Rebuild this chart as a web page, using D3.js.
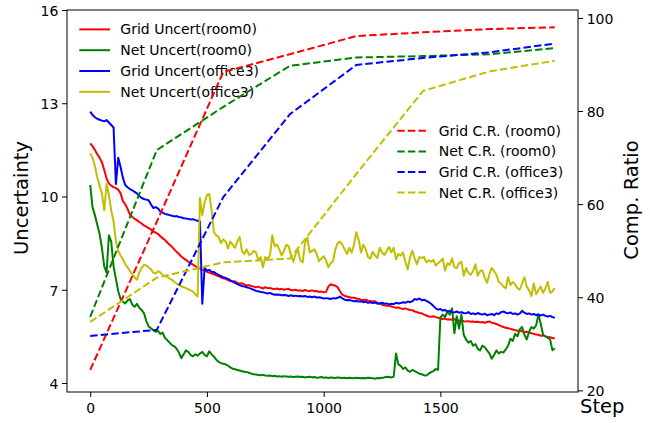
<!DOCTYPE html>
<html>
<head>
<meta charset="utf-8">
<script src="https://cdn.jsdelivr.net/npm/d3@7"></script>
<style>
body { margin: 0; background: #fff; }
svg { display: block; font-family: "DejaVu Sans", sans-serif; }
</style>
</head>
<body>
<script>

// uncertainty curves, one reading every 10 steps (0 .. 1990)
let steps = d3.range(0, 2000, 10)

let gridUncertRoom0 = [
    11.71, 11.62, 11.50, 11.36, 11.25, 11.10, 10.85, 10.58, 10.42, 10.35,
    10.30, 10.27, 10.22, 10.10, 9.85, 9.75, 9.60, 9.42, 9.35, 9.28,
    9.24, 9.18, 9.13, 9.07, 9.03, 8.98, 8.94, 8.88, 8.84, 8.80,
    8.72, 8.66, 8.60, 8.52, 8.45, 8.38, 8.30, 8.22, 8.15, 8.07,
    8.01, 7.96, 7.90, 7.85, 7.81, 7.76, 7.72, 7.68, 7.64, 7.62,
    7.58, 7.55, 7.52, 7.50, 7.46, 7.44, 7.40, 7.37, 7.35, 7.31,
    7.28, 7.26, 7.27, 7.22, 7.20, 7.21, 7.17, 7.14, 7.15, 7.12,
    7.10, 7.08, 7.10, 7.07, 7.04, 7.08, 7.05, 7.06, 7.03, 7.02,
    7.04, 7.01, 7.03, 7.00, 7.02, 7.03, 6.99, 6.98, 7.00, 6.97,
    6.98, 6.96, 6.99, 6.97, 6.96, 6.98, 6.95, 6.96, 6.93, 6.94,
    6.92, 6.93, 7.10, 7.18, 7.15, 7.13, 7.08, 6.95, 6.84, 6.80,
    6.78, 6.76, 6.74, 6.74, 6.72, 6.70, 6.68, 6.67, 6.68, 6.65,
    6.64, 6.62, 6.63, 6.58, 6.56, 6.52, 6.50, 6.48, 6.49, 6.46,
    6.44, 6.42, 6.43, 6.40, 6.38, 6.40, 6.37, 6.35, 6.34, 6.30,
    6.28, 6.25, 6.24, 6.20, 6.17, 6.14, 6.13, 6.15, 6.12, 6.10,
    6.08, 6.06, 6.07, 6.04, 6.05, 6.03, 6.05, 6.02, 6.00, 6.01,
    5.99, 5.98, 5.99, 5.97, 5.98, 5.96, 5.97, 5.95, 5.96, 5.94,
    5.96, 5.98, 5.94, 5.92, 5.90, 5.86, 5.83, 5.80, 5.78, 5.76,
    5.74, 5.72, 5.70, 5.68, 5.69, 5.66, 5.64, 5.65, 5.62, 5.60,
    5.58, 5.56, 5.55, 5.52, 5.53, 5.50, 5.48, 5.47, 5.45, 5.43
]

let netUncertRoom0 = [
    10.37, 9.65, 9.40, 9.10, 8.80, 8.35, 7.75, 7.55, 8.75, 8.55,
    7.75, 7.35, 6.95, 6.70, 6.62, 6.56, 6.66, 6.70, 6.52, 6.45,
    6.55, 6.42, 6.35, 6.25, 6.00, 5.82, 5.76, 5.70, 5.65, 5.68,
    5.58, 5.62, 5.45, 5.38, 5.30, 5.22, 5.18, 5.10, 4.98, 4.80,
    4.92, 5.05, 5.00, 4.90, 4.86, 4.92, 4.88, 4.95, 5.00, 4.90,
    4.86, 5.02, 4.92, 4.85, 4.75, 4.68, 4.64, 4.62, 4.60, 4.56,
    4.50, 4.46, 4.44, 4.42, 4.40, 4.38, 4.36, 4.35, 4.33, 4.30,
    4.28, 4.27, 4.26, 4.25, 4.26, 4.24, 4.23, 4.24, 4.22, 4.23,
    4.21, 4.22, 4.20, 4.22, 4.21, 4.20, 4.21, 4.19, 4.20, 4.21,
    4.19, 4.20, 4.18, 4.19, 4.20, 4.18, 4.19, 4.17, 4.18, 4.19,
    4.17, 4.18, 4.16, 4.18, 4.17, 4.16, 4.18, 4.17, 4.16, 4.17,
    4.15, 4.17, 4.16, 4.15, 4.17, 4.16, 4.15, 4.16, 4.15, 4.17,
    4.16, 4.15, 4.14, 4.16, 4.15, 4.17, 4.18, 4.20, 4.19, 4.18,
    4.20, 4.95, 4.60, 4.55, 4.45, 4.50, 4.40, 4.36, 4.42, 4.38,
    4.34, 4.30, 4.28, 4.25, 4.24, 4.30, 4.35, 4.38, 4.45, 4.42,
    6.10, 6.20, 6.12, 6.30, 6.20, 6.40, 5.60, 6.15, 5.75, 6.20,
    5.55, 5.40, 5.30, 5.35, 5.20, 5.25, 5.10, 5.05, 5.20, 5.15,
    5.05, 4.95, 4.78, 4.90, 5.05, 4.95, 5.00, 4.98, 5.08, 5.20,
    5.42, 5.35, 5.58, 5.50, 5.72, 5.80, 5.55, 5.40, 5.65, 5.80,
    5.75, 5.85, 6.20, 5.90, 5.55, 5.50, 5.45, 5.40, 5.05, 5.12
]

let gridUncertOffice3 = [
    12.73, 12.62, 12.55, 12.50, 12.47, 12.44, 12.42, 12.46, 12.38, 12.30,
    12.22, 10.40, 11.25, 10.95, 10.60, 10.37, 10.30, 10.24, 10.20, 10.15,
    10.10, 10.02, 9.95, 9.92, 9.90, 9.88, 9.75, 9.63, 9.66, 9.62,
    9.52, 9.48, 9.44, 9.42, 9.40, 9.38, 9.36, 9.37, 9.34, 9.33,
    9.30, 9.29, 9.28, 9.26, 9.27, 9.24, 9.22, 9.20, 6.55, 7.70,
    7.62, 7.64, 7.58, 7.57, 7.52, 7.48, 7.44, 7.40, 7.38, 7.35,
    7.30, 7.27, 7.22, 7.18, 7.15, 7.12, 7.10, 7.08, 7.06, 7.03,
    7.00, 6.96, 6.95, 6.93, 6.92, 6.90, 6.88, 6.90, 6.86, 6.84,
    6.85, 6.84, 6.82, 6.83, 6.82, 6.80, 6.82, 6.80, 6.81, 6.79,
    6.80, 6.78, 6.80, 6.77, 6.78, 6.76, 6.78, 6.75, 6.76, 6.74,
    6.72, 6.73, 6.72, 6.70, 6.73, 6.72, 6.74, 6.78, 6.72, 6.68,
    6.66, 6.67, 6.65, 6.63, 6.64, 6.62, 6.63, 6.60, 6.62, 6.58,
    6.60, 6.57, 6.59, 6.55, 6.56, 6.58, 6.55, 6.56, 6.53, 6.55,
    6.54, 6.58, 6.56, 6.57, 6.60, 6.58, 6.62, 6.60, 6.63, 6.70,
    6.68, 6.72, 6.66, 6.68, 6.64, 6.60, 6.55, 6.48, 6.40, 6.36,
    6.38, 6.33, 6.35, 6.30, 6.32, 6.28, 6.27, 6.30, 6.26, 6.28,
    6.25, 6.24, 6.28, 6.22, 6.24, 6.21, 6.25, 6.22, 6.20, 6.23,
    6.18, 6.20, 6.22, 6.18, 6.24, 6.22, 6.28, 6.30, 6.26, 6.24,
    6.27, 6.22, 6.24, 6.20, 6.23, 6.32, 6.26, 6.22, 6.24, 6.20,
    6.22, 6.18, 6.21, 6.17, 6.20, 6.16, 6.14, 6.16, 6.12, 6.10
]

let netUncertOffice3 = [
    11.39, 11.25, 10.98, 10.62, 10.35, 10.10, 9.55, 10.40, 10.05, 9.55,
    9.20, 8.55, 8.25, 8.10, 7.98, 7.82, 7.72, 7.60, 7.50, 7.40,
    7.32, 7.55, 7.70, 7.80, 7.78, 7.72, 7.66, 7.55, 7.52, 7.60,
    7.56, 7.48, 7.44, 7.42, 7.36, 7.32, 7.25, 7.20, 7.16, 7.12,
    7.08, 7.05, 7.02, 6.98, 6.94, 6.85, 6.78, 9.95, 9.40, 9.80,
    10.05, 10.08, 9.55, 8.85, 8.75, 8.70, 8.50, 8.62, 8.55, 8.33,
    8.55, 8.45, 8.35, 8.55, 8.70, 8.25, 8.15, 8.30, 8.12, 8.15,
    8.25, 8.20, 7.95, 8.05, 7.72, 8.05, 8.00, 8.10, 8.75, 8.40,
    8.45, 8.30, 8.10, 8.25, 8.45, 8.40, 8.10, 7.90, 8.15, 8.28,
    7.95, 7.88, 8.50, 8.68, 8.20, 8.25, 8.30, 8.15, 7.92, 8.00,
    8.08, 7.95, 7.72, 7.85, 7.92, 8.30, 8.50, 8.55, 8.45, 8.30,
    8.15, 8.35, 8.20, 8.45, 8.85, 8.60, 8.20, 8.45, 8.30, 8.05,
    8.00, 8.22, 8.10, 8.02, 8.35, 8.20, 8.12, 8.25, 8.38, 8.20,
    8.35, 7.98, 8.15, 8.10, 8.20, 7.90, 7.65, 8.05, 8.25, 8.00,
    7.82, 8.05, 8.02, 8.06, 7.88, 7.95, 7.90, 7.96, 7.78, 7.85,
    7.92, 8.00, 7.62, 7.85, 7.80, 8.00, 7.72, 7.70, 7.85, 7.90,
    7.45, 7.70, 7.55, 7.48, 7.60, 7.82, 7.45, 7.60, 7.62, 7.40,
    7.22, 7.50, 7.70, 7.60, 7.48, 7.25, 7.20, 7.10, 7.05, 7.40,
    7.15, 7.25, 7.18, 7.05, 7.00, 7.20, 7.40, 7.10, 6.98, 6.80,
    7.20, 6.85, 7.00, 7.10, 6.90, 7.05, 7.25, 6.90, 6.95, 7.05
]

// compression ratio, sparse checkpoints
let crSteps = [0, 285, 570, 855, 1140, 1425, 1710, 1990]
let gridCrRoom0 = [24.4, 56.2, 88.4, 92.2, 96.1, 96.9, 97.6, 98.0]
let netCrRoom0 = [35.8, 71.6, 80.9, 89.7, 91.5, 91.8, 92.2, 93.5]
let gridCrOffice3 = [31.7, 33.0, 61.5, 79.3, 89.9, 91.4, 92.6, 94.5]
let netCrOffice3 = [34.7, 44.2, 47.5, 48.3, 66.5, 84.3, 88.5, 90.8]

let uncertNames = ["Grid Uncert(room0)", "Net Uncert(room0)", "Grid Uncert(office3)", "Net Uncert(office3)"]
let crNames = ["Grid C.R. (room0)", "Net C.R. (room0)", "Grid C.R. (office3)", "Net C.R. (office3)"]
let colors = ["#ff0000", "#008000", "#0000ff", "#bfbf00"]

let xTicks = [0, 500, 1000, 1500]
let leftTicks = [4, 7, 10, 13, 16]
let rightTicks = [20, 40, 60, 80, 100]

let width = 650
let height = 423
let plotLeft = 67, plotRight = 578, plotTop = 10, plotBottom = 392

let svg = d3.select("body")
            .append("svg")
            .attr("width", width)
            .attr("height", height)

let xScale = d3.scaleLinear().domain([-99.5, 2089.5]).range([plotLeft, plotRight])
let yLeft = d3.scaleLinear().domain([3.71, 16]).range([plotBottom, plotTop])
let yRight = d3.scaleLinear().domain([19.65, 101.7]).range([plotBottom, plotTop])

svg.append("clipPath").attr("id", "plot")
    .append("rect")
    .attr("x", plotLeft).attr("y", plotTop)
    .attr("width", plotRight - plotLeft).attr("height", plotBottom - plotTop)

let uncertSeries = [gridUncertRoom0, netUncertRoom0, gridUncertOffice3, netUncertOffice3]
let crSeries = [gridCrRoom0, netCrRoom0, gridCrOffice3, netCrOffice3]

let solidLine = d3.line()
                  .x((d, i) => xScale(steps[i]))
                  .y(d => yLeft(d))

let dashLine = d3.line()
                 .x((d, i) => xScale(crSteps[i]))
                 .y(d => yRight(d))

// solid uncertainty lines (left axis)
svg.append("g")
    .attr("clip-path", "url(#plot)")
    .selectAll("path")
    .data(uncertSeries)
    .enter()
    .append("path")
    .attr("d", d => solidLine(d))
    .attr("fill", "none")
    .attr("stroke", (d, i) => colors[i])
    .attr("stroke-width", 2)
    .attr("stroke-linejoin", "round")

let legendUncert = svg.append("g")
uncertNames.forEach((name, i) => {
    let yy = 29.4 + i * 20.8
    legendUncert.append("line")
        .attr("x1", 79.3).attr("x2", 110)
        .attr("y1", yy).attr("y2", yy)
        .attr("stroke", colors[i]).attr("stroke-width", 2)
    legendUncert.append("text")
        .attr("x", 120.3).attr("y", yy).attr("dy", "0.36em")
        .attr("font-size", 14)
        .text(name)
})

// dashed compression-ratio lines (right axis)
svg.append("g")
    .attr("clip-path", "url(#plot)")
    .selectAll("path")
    .data(crSeries)
    .enter()
    .append("path")
    .attr("d", d => dashLine(d))
    .attr("fill", "none")
    .attr("stroke", (d, i) => colors[i])
    .attr("stroke-width", 2)
    .attr("stroke-dasharray", "7.4,3.2")

let legendCr = svg.append("g")
crNames.forEach((name, i) => {
    let yy = 130.8 + i * 20.6
    legendCr.append("line")
        .attr("x1", 397.3).attr("x2", 426.7)
        .attr("y1", yy).attr("y2", yy)
        .attr("stroke", colors[i]).attr("stroke-width", 2)
        .attr("stroke-dasharray", "7.4,3.2")
    legendCr.append("text")
        .attr("x", 438.7).attr("y", yy).attr("dy", "0.36em")
        .attr("font-size", 14)
        .text(name)
})

// frame
svg.append("rect")
    .attr("x", plotLeft).attr("y", plotTop)
    .attr("width", plotRight - plotLeft).attr("height", plotBottom - plotTop)
    .attr("fill", "none").attr("stroke", "#000").attr("stroke-width", 1)

let styleAxis = g => {
    g.attr("font-size", 14).attr("font-family", "DejaVu Sans")
    g.select(".domain").remove()
    g.selectAll(".tick line").attr("stroke", "#000")
    g.selectAll(".tick text").attr("fill", "#000")
}

svg.append("g")
    .attr("transform", "translate(0," + plotBottom + ")")
    .call(d3.axisBottom(xScale).tickValues(xTicks).tickFormat(d3.format("d")).tickSize(5).tickPadding(6.5))
    .call(styleAxis)

svg.append("g")
    .attr("transform", "translate(" + plotLeft + ",0)")
    .call(d3.axisLeft(yLeft).tickValues(leftTicks).tickSize(5).tickPadding(3.7))
    .call(styleAxis)
    .selectAll(".tick text").attr("dy", "0.38em")

svg.append("g")
    .attr("transform", "translate(" + plotRight + ",0)")
    .call(d3.axisRight(yRight).tickValues(rightTicks).tickSize(5).tickPadding(3.7))
    .call(styleAxis)
    .selectAll(".tick text").attr("dy", "0.38em")

// axis titles
svg.append("text")
    .attr("transform", "translate(27.5,198) rotate(-90)")
    .attr("text-anchor", "middle")
    .attr("font-size", 19.5)
    .text("Uncertainty")

svg.append("text")
    .attr("transform", "translate(637.5,200) rotate(-90)")
    .attr("text-anchor", "middle")
    .attr("font-size", 19.5)
    .text("Comp. Ratio")

svg.append("text")
    .attr("x", 580).attr("y", 413)
    .attr("font-size", 19.5)
    .text("Step")

</script>
</body>
</html>
